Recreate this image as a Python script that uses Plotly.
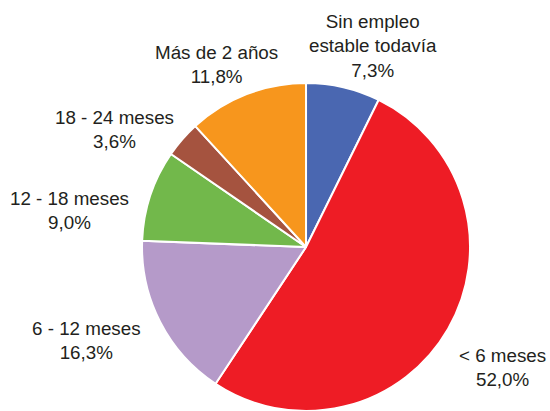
import plotly.graph_objects as go

categories = ["Sin empleo<br>estable todavía", "< 6 meses", "6 - 12 meses",
              "12 - 18 meses", "18 - 24 meses", "Más de 2 años"]
values = [7.3, 52.0, 16.3, 9.0, 3.6, 11.8]
colors = ["#4a67b1", "#ee1c25", "#b59ac9", "#72b84b", "#a5533f", "#f7961d"]

# label positions (paper coords) for outside labels
label_pos = [(0.678, 0.888), (0.9145, 0.106), (0.157, 0.172),
             (0.127, 0.489), (0.209, 0.684), (0.393, 0.842)]

fig = go.Figure(go.Pie(
    labels=categories, values=values, sort=False, direction="clockwise",
    rotation=0, textinfo="none", hoverinfo="label+percent",
    marker=dict(colors=colors, line=dict(color="white", width=2)),
    domain=dict(x=[0.2546, 0.8582], y=[0.0, 0.798]),
    showlegend=False,
))

for cat, val, (x, y) in zip(categories, values, label_pos):
    txt = f"{cat}<br>{val:.1f}%".replace(".", ",")
    fig.add_annotation(x=x, y=y, xref="paper", yref="paper", text=txt,
                       showarrow=False, xanchor="center", yanchor="middle",
                       align="center",
                       font=dict(family="Liberation Sans, Arial, sans-serif",
                                 size=18.8, color="#231f20"))

fig.update_layout(width=550, height=411, margin=dict(l=0, r=0, t=0, b=0),
                  paper_bgcolor="white", plot_bgcolor="white")
fig.write_html("out.html", config={"displayModeBar": False},
               post_script="document.body.style.margin='0';document.body.style.overflow='hidden';")
